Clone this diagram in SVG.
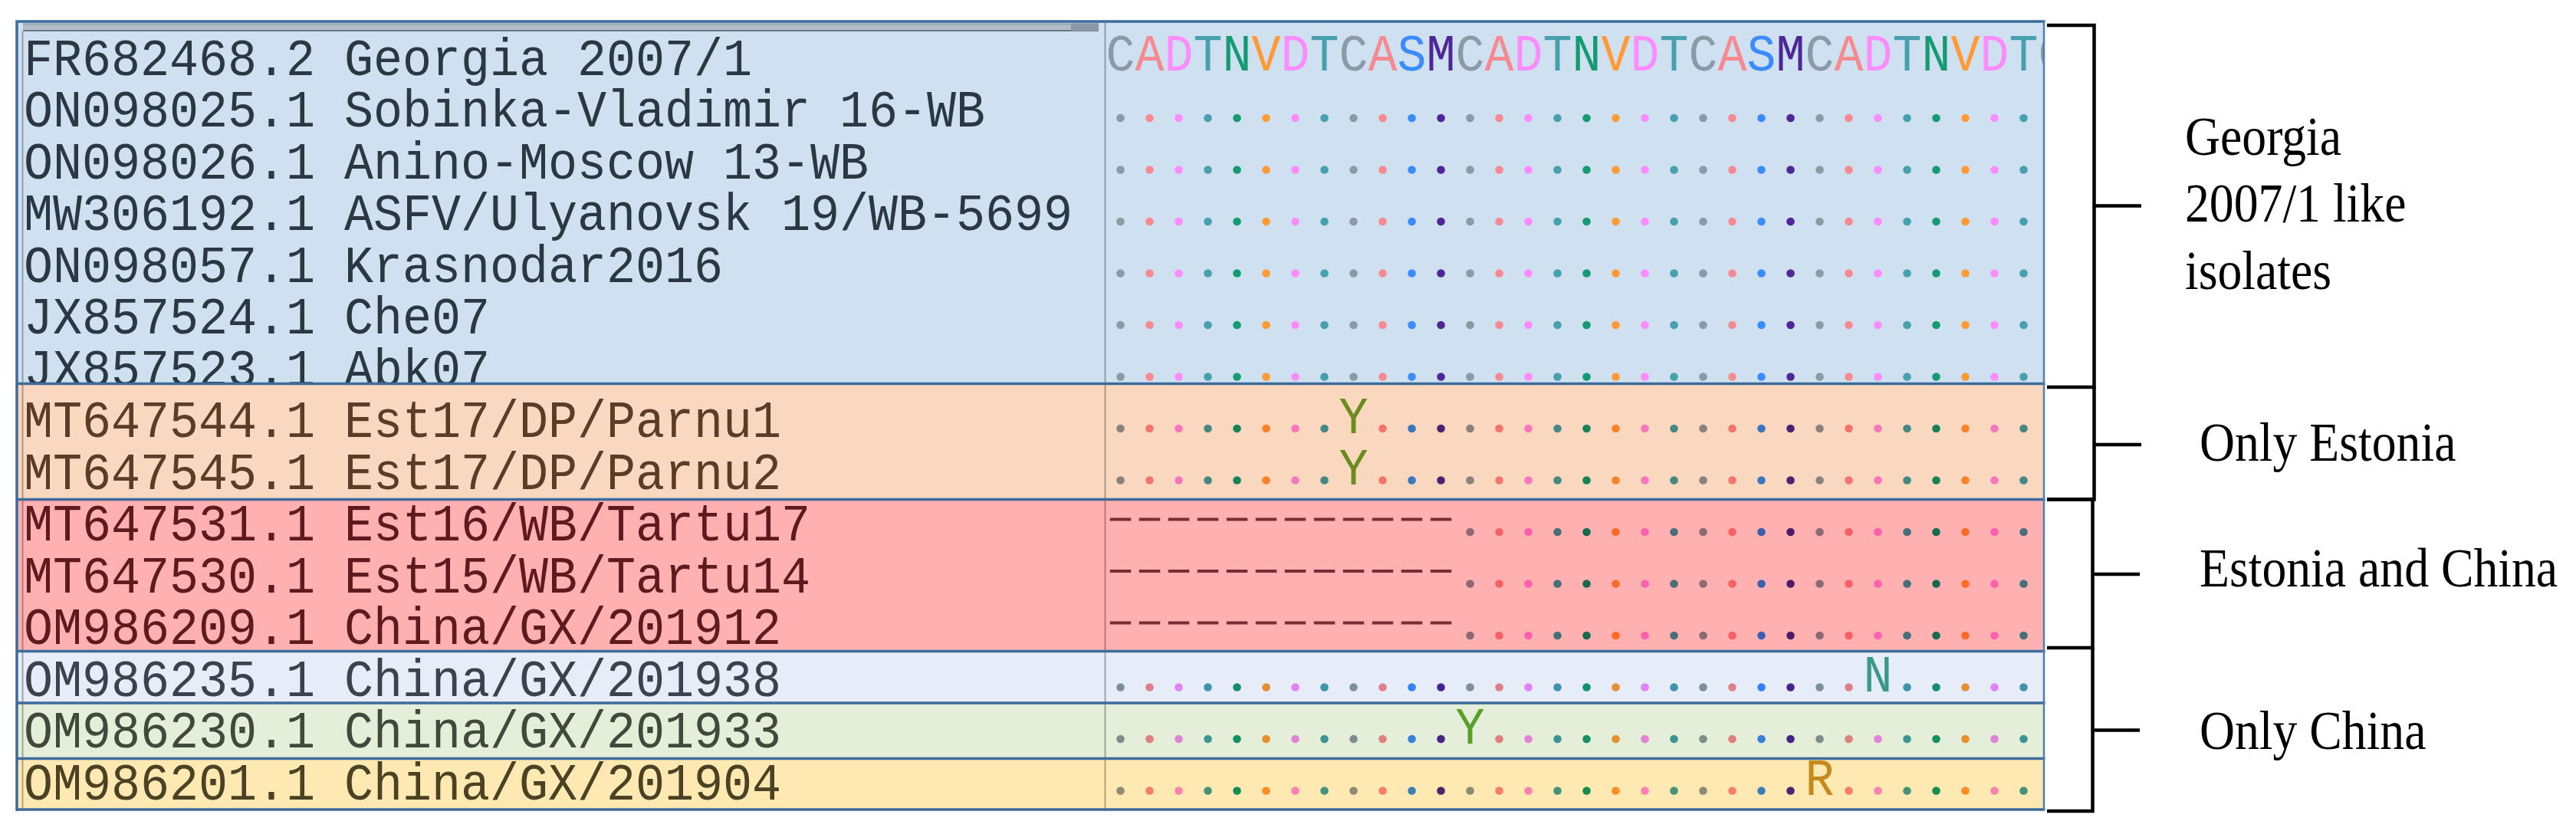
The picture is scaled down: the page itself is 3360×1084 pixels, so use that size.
<svg xmlns="http://www.w3.org/2000/svg" xmlns:xlink="http://www.w3.org/1999/xlink" width="3360" height="1084" viewBox="0 0 3360 1084">
<style>
.mono{font-family:"Liberation Mono","Courier New",monospace;font-size:68px}
.lab{font-family:"Liberation Serif","Times New Roman",serif;font-size:72px;fill:#000}
.blend{mix-blend-mode:multiply}
.cC{fill:#8c99a6}.cA{fill:#f78a90}.cD{fill:#fc8cfc}.cT{fill:#46a0ae}.cN{fill:#169a72}.cV{fill:#ff9a34}.cS{fill:#3a8cff}.cM{fill:#4e2696}
.nBlue{fill:#2c3744}.nOrange{fill:#5c3c24}.nRed{fill:#5e1a1e}.nLB{fill:#3a4250}.nGreen{fill:#404a3c}.nYellow{fill:#4a4222}
.border{stroke:#3d6c9c;stroke-width:3.5;fill:none}
.inner{stroke:#000;stroke-opacity:0.3;stroke-width:2;fill:none}
.br{stroke:#000;stroke-width:4.5;fill:none}
</style>
<defs>
<clipPath id="seqClip"><rect x="1442" y="28" width="1223" height="1028"/></clipPath>
<clipPath id="blueClip"><rect x="22" y="28" width="2644" height="471"/></clipPath>
<g id="a"><circle cx="1461.5" r="5.3" class="cC"/><circle cx="1499.5" r="5.3" class="cA"/><circle cx="1537.5" r="5.3" class="cD"/><circle cx="1575.5" r="5.3" class="cT"/><circle cx="1613.5" r="5.3" class="cN"/><circle cx="1651.5" r="5.3" class="cV"/><circle cx="1689.5" r="5.3" class="cD"/><circle cx="1727.5" r="5.3" class="cT"/></g>
<g id="b"><circle cx="1765.5" r="5.3" class="cC"/></g>
<g id="c"><circle cx="1803.5" r="5.3" class="cA"/><circle cx="1841.5" r="5.3" class="cS"/><circle cx="1879.5" r="5.3" class="cM"/></g>
<g id="d"><circle cx="1917.5" r="5.3" class="cC"/></g>
<g id="e"><circle cx="1955.5" r="5.3" class="cA"/><circle cx="1993.5" r="5.3" class="cD"/><circle cx="2031.5" r="5.3" class="cT"/><circle cx="2069.5" r="5.3" class="cN"/><circle cx="2107.5" r="5.3" class="cV"/><circle cx="2145.5" r="5.3" class="cD"/><circle cx="2183.5" r="5.3" class="cT"/><circle cx="2221.5" r="5.3" class="cC"/><circle cx="2259.5" r="5.3" class="cA"/><circle cx="2297.5" r="5.3" class="cS"/><circle cx="2335.5" r="5.3" class="cM"/></g>
<g id="f"><circle cx="2373.5" r="5.3" class="cC"/></g>
<g id="g"><circle cx="2411.5" r="5.3" class="cA"/></g>
<g id="h"><circle cx="2449.5" r="5.3" class="cD"/></g>
<g id="i"><circle cx="2487.5" r="5.3" class="cT"/><circle cx="2525.5" r="5.3" class="cN"/><circle cx="2563.5" r="5.3" class="cV"/><circle cx="2601.5" r="5.3" class="cD"/><circle cx="2639.5" r="5.3" class="cT"/></g>
<g id="left"><use href="#a"/><use href="#b"/><use href="#c"/></g>
<g id="right"><use href="#d"/><use href="#e"/><use href="#f"/><use href="#g"/><use href="#h"/><use href="#i"/></g>
<g id="full"><use href="#left"/><use href="#right"/></g>
<line id="dashes" x1="1447.75" y1="0" x2="1893.25" y2="0" stroke="#7a2d35" stroke-width="4" stroke-dasharray="27.5 10.5"/>
</defs>

<rect width="3360" height="1084" fill="#fff"/>

<g id="band-georgia">
<rect x="22" y="28" width="2644" height="472.5" fill="#cfe0f1"/>
<g clip-path="url(#blueClip)">
<g class="blend">
<text class="mono" x="1442.5" y="92" textLength="1254" lengthAdjust="spacingAndGlyphs" clip-path="url(#seqClip)"><tspan class="cC">C</tspan><tspan class="cA">A</tspan><tspan class="cD">D</tspan><tspan class="cT">T</tspan><tspan class="cN">N</tspan><tspan class="cV">V</tspan><tspan class="cD">D</tspan><tspan class="cT">T</tspan><tspan class="cC">C</tspan><tspan class="cA">A</tspan><tspan class="cS">S</tspan><tspan class="cM">M</tspan><tspan class="cC">C</tspan><tspan class="cA">A</tspan><tspan class="cD">D</tspan><tspan class="cT">T</tspan><tspan class="cN">N</tspan><tspan class="cV">V</tspan><tspan class="cD">D</tspan><tspan class="cT">T</tspan><tspan class="cC">C</tspan><tspan class="cA">A</tspan><tspan class="cS">S</tspan><tspan class="cM">M</tspan><tspan class="cC">C</tspan><tspan class="cA">A</tspan><tspan class="cD">D</tspan><tspan class="cT">T</tspan><tspan class="cN">N</tspan><tspan class="cV">V</tspan><tspan class="cD">D</tspan><tspan class="cT">T</tspan><tspan class="cC">C</tspan></text>
<use href="#full" y="154"/><use href="#full" y="221.5"/><use href="#full" y="289"/><use href="#full" y="356.5"/><use href="#full" y="424"/><use href="#full" y="491.5"/>
</g>
<g class="nBlue">
<text class="mono" x="31" y="97.5" textLength="950" lengthAdjust="spacingAndGlyphs">FR682468.2 Georgia 2007/1</text>
<text class="mono" x="31" y="165" textLength="1254" lengthAdjust="spacingAndGlyphs">ON098025.1 Sobinka-Vladimir 16-WB</text>
<text class="mono" x="31" y="232.5" textLength="1102" lengthAdjust="spacingAndGlyphs">ON098026.1 Anino-Moscow 13-WB</text>
<text class="mono" x="31" y="300" textLength="1368" lengthAdjust="spacingAndGlyphs">MW306192.1 ASFV/Ulyanovsk 19/WB-5699</text>
<text class="mono" x="31" y="367.5" textLength="912" lengthAdjust="spacingAndGlyphs">ON098057.1 Krasnodar2016</text>
<text class="mono" x="31" y="435" textLength="608" lengthAdjust="spacingAndGlyphs">JX857524.1 Che07</text>
<text class="mono" x="31" y="502.5" textLength="608" lengthAdjust="spacingAndGlyphs">JX857523.1 Abk07</text>
</g>
</g>
<rect x="30" y="30.5" width="1403" height="10" fill="#b3bdc7"/>
<line x1="30" y1="31.5" x2="1433" y2="31.5" stroke="#98a5b2" stroke-width="2"/>
<line x1="30" y1="40" x2="1433" y2="40" stroke="#66778a" stroke-width="2"/>
<rect x="1397" y="30.5" width="36" height="10" fill="#8a98a6"/>
</g>

<g id="band-estonia">
<rect x="22" y="500.5" width="2644" height="151" fill="#fad8c0"/>
<g class="blend">
<use href="#a" y="559"/><use href="#c" y="559"/><use href="#right" y="559"/>
<use href="#a" y="626.5"/><use href="#c" y="626.5"/><use href="#right" y="626.5"/>
</g>
<text class="mono" x="1746.5" y="564.5" textLength="38" lengthAdjust="spacingAndGlyphs" fill="#6a8c1e">Y</text>
<text class="mono" x="1746.5" y="632" textLength="38" lengthAdjust="spacingAndGlyphs" fill="#6a8c1e">Y</text>
<g class="nOrange">
<text class="mono" x="31" y="570" textLength="988" lengthAdjust="spacingAndGlyphs">MT647544.1 Est17/DP/Parnu1</text>
<text class="mono" x="31" y="637.5" textLength="988" lengthAdjust="spacingAndGlyphs">MT647545.1 Est17/DP/Parnu2</text>
</g>
</g>

<g id="band-estonia-china">
<rect x="22" y="651.5" width="2644" height="198" fill="#ffb1b1"/>
<use href="#dashes" y="677.5"/><use href="#dashes" y="745"/><use href="#dashes" y="812.5"/>
<g class="blend">
<use href="#right" y="694"/><use href="#right" y="761.5"/><use href="#right" y="829"/>
</g>
<g class="nRed">
<text class="mono" x="31" y="705" textLength="1026" lengthAdjust="spacingAndGlyphs">MT647531.1 Est16/WB/Tartu17</text>
<text class="mono" x="31" y="772.5" textLength="1026" lengthAdjust="spacingAndGlyphs">MT647530.1 Est15/WB/Tartu14</text>
<text class="mono" x="31" y="840" textLength="988" lengthAdjust="spacingAndGlyphs">OM986209.1 China/GX/201912</text>
</g>
</g>

<g id="band-china-201938">
<rect x="22" y="849.5" width="2644" height="67.5" fill="#e6ecf8"/>
<g class="blend"><use href="#left" y="896.5"/><use href="#d" y="896.5"/><use href="#e" y="896.5"/><use href="#f" y="896.5"/><use href="#g" y="896.5"/><use href="#i" y="896.5"/></g>
<text class="mono" x="2430.5" y="902" textLength="38" lengthAdjust="spacingAndGlyphs" fill="#3a9a8a">N</text>
<text class="mono nLB" x="31" y="907.5" textLength="988" lengthAdjust="spacingAndGlyphs">OM986235.1 China/GX/201938</text>
</g>

<g id="band-china-201933">
<rect x="22" y="917" width="2644" height="72.5" fill="#e4eed9"/>
<g class="blend"><use href="#left" y="964"/><use href="#e" y="964"/><use href="#f" y="964"/><use href="#g" y="964"/><use href="#h" y="964"/><use href="#i" y="964"/></g>
<text class="mono" x="1898.5" y="969.5" textLength="38" lengthAdjust="spacingAndGlyphs" fill="#5aa028">Y</text>
<text class="mono nGreen" x="31" y="975" textLength="988" lengthAdjust="spacingAndGlyphs">OM986230.1 China/GX/201933</text>
</g>

<g id="band-china-201904">
<rect x="22" y="989.5" width="2644" height="66.5" fill="#ffe9b2"/>
<g class="blend"><use href="#left" y="1031.5"/><use href="#d" y="1031.5"/><use href="#e" y="1031.5"/><use href="#g" y="1031.5"/><use href="#h" y="1031.5"/><use href="#i" y="1031.5"/></g>
<text class="mono" x="2354.5" y="1037" textLength="38" lengthAdjust="spacingAndGlyphs" fill="#c58a1e">R</text>
<text class="mono nYellow" x="31" y="1042.5" textLength="988" lengthAdjust="spacingAndGlyphs">OM986201.1 China/GX/201904</text>
</g>

<g id="frame">
<line class="inner" x1="29.5" y1="41" x2="29.5" y2="1056"/>
<line class="inner" x1="1441.5" y1="30" x2="1441.5" y2="1056"/>
<path class="border" d="M20.5 28H2667.5M20.5 500.5H2667.5M20.5 651.5H2667.5M20.5 849.5H2667.5M20.5 917H2667.5M20.5 989.5H2667.5M20.5 1056H2667.5M22 26.5V1058"/>
<line x1="2666" y1="27" x2="2666" y2="1057" stroke="#4f80b0" stroke-width="2.5"/>
</g>

<g id="connectors">
<path class="br" d="M2670 33H2731.5V505H2670M2731.5 268.5H2793"/>
<path class="br" d="M2731.5 505V651.5H2670M2731.5 580H2793"/>
<path class="br" d="M2670 651.5H2729.5V845H2670M2729.5 749H2791"/>
<path class="br" d="M2729.5 845V1058H2670M2729.5 952.5H2791"/>
</g>

<g id="label-georgia"><text class="lab" transform="translate(2850 202) scale(0.885 1)"><tspan x="0" y="0">Georgia</tspan><tspan x="0" y="87.5">2007/1 like</tspan><tspan x="0" y="175">isolates</tspan></text></g>
<g id="label-only-estonia"><text class="lab" transform="translate(2869 600.5) scale(0.885 1)">Only Estonia</text></g>
<g id="label-estonia-china"><text class="lab" transform="translate(2869 764.5) scale(0.885 1)">Estonia and China</text></g>
<g id="label-only-china"><text class="lab" transform="translate(2869 977) scale(0.885 1)">Only China</text></g>
</svg>
